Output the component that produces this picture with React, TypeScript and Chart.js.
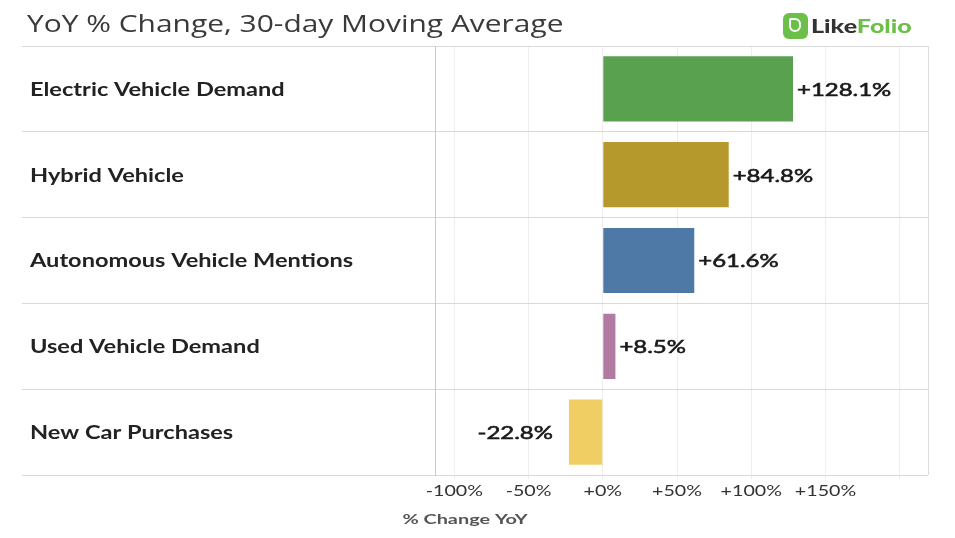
import React, { useEffect, useRef } from "react";
import { Chart, registerables } from "chart.js";

Chart.register(...registerables);

const categories = [
  "Electric Vehicle Demand",
  "Hybrid Vehicle",
  "Autonomous Vehicle Mentions",
  "Used Vehicle Demand",
  "New Car Purchases",
];
const values = [128.1, 84.8, 61.6, 8.5, -22.8];
const barColors = ["#59a14f", "#b6992d", "#4e79a7", "#b07aa1", "#f1ce63"];
const xTickValues = [-100, -50, 0, 50, 100, 150];
const titleText = "YoY % Change, 30-day Moving Average";
const xAxisTitle = "% Change YoY";

const STRETCH = 1.31;

const fmt = (v: number) => (v >= 0 ? "+" : "") + v.toFixed(1) + "%";
const fmtTick = (v: number) => (v >= 0 ? "+" : "") + v + "%";

function stretchedText(ctx: any, text: string, x: number, y: number, align: string, s: number, stroke = 0) {
  ctx.save();
  ctx.scale(s, 1);
  ctx.textAlign = align;
  ctx.fillText(text, x / s, y);
  if (stroke > 0) {
    ctx.lineWidth = stroke;
    ctx.strokeStyle = ctx.fillStyle;
    ctx.strokeText(text, x / s, y);
  }
  ctx.restore();
}

const overlayPlugin = {
  id: "overlay",
  afterDatasetsDraw(chart: any) {
    const { ctx, chartArea } = chart;
    const meta = chart.getDatasetMeta(0);
    const xs = chart.scales.x;
    const ys = chart.scales.y;
    ctx.save();
    // right border
    ctx.strokeStyle = "#dcdcdc";
    ctx.lineWidth = 1;
    ctx.beginPath();
    ctx.moveTo(chartArea.right + 0.5, chartArea.top);
    ctx.lineTo(chartArea.right + 0.5, chartArea.bottom);
    ctx.stroke();
    ctx.textBaseline = "middle";
    // category labels
    ctx.font = "bold 18px Lato";
    ctx.fillStyle = "#222222";
    categories.forEach((c, i) => {
      stretchedText(ctx, c, 30, ys.getPixelForValue(i) + 1, "left", STRETCH);
    });
    // value labels
    ctx.font = "18px Lato";
    ctx.fillStyle = "#1a1a1a";
    meta.data.forEach((bar: any, i: number) => {
      const v = values[i];
      if (v >= 0) {
        stretchedText(ctx, fmt(v), bar.x + 4, bar.y + 1, "left", 1.33, 0.6);
      } else {
        stretchedText(ctx, fmt(v), bar.x - 16, bar.y + 1, "right", 1.33, 0.6);
      }
    });
    // x tick labels
    ctx.font = "15px Lato";
    ctx.fillStyle = "#333333";
    xTickValues.forEach((v) => {
      stretchedText(ctx, fmtTick(v), xs.getPixelForValue(v), 491, "center", STRETCH);
    });
    // axis title
    ctx.font = "bold 14px Lato";
    ctx.fillStyle = "#555555";
    stretchedText(ctx, xAxisTitle, 465, 519, "center", 1.42);
    ctx.restore();
  },
};

export default function App() {
  const ref = useRef<HTMLCanvasElement | null>(null);
  useEffect(() => {
    if (!ref.current) return;
    const chart = new Chart(ref.current, {
      type: "bar",
      data: {
        labels: categories,
        datasets: [
          {
            data: values,
            backgroundColor: barColors,
            barPercentage: 0.76,
            categoryPercentage: 1,
          },
        ],
      },
      options: {
        indexAxis: "y",
        animation: false,
        responsive: true,
        maintainAspectRatio: false,
        layout: { padding: { left: 30, top: 46, right: 27, bottom: 0 } },
        plugins: {
          legend: { display: false },
          tooltip: { enabled: false },
          title: { display: false },
        },
        scales: {
          x: {
            type: "linear",
            min: -113,
            max: 219,
            afterBuildTicks: (scale: any) => {
              scale.ticks = [...xTickValues, 200].map((v) => ({ value: v }));
            },
            afterFit: (scale: any) => {
              scale.height = 63;
            },
            grid: { color: "#eeeeee", lineWidth: 1, tickLength: 4, drawTicks: true },
            border: { display: false },
            ticks: { display: false },
          },
          y: {
            afterFit: (scale: any) => {
              scale.width = 405;
            },
            grid: { color: "#d9d9d9", lineWidth: 1, tickLength: 413, drawTicks: true },
            border: { display: true, color: "#c8c8c8" },
            ticks: { display: false },
          },
        },
      },
      plugins: [overlayPlugin],
    } as any);
    return () => chart.destroy();
  }, []);

  return (
    <div style={{ position: "fixed", left: 0, top: 0, width: 955, height: 538, background: "#fff" }}>
      <canvas ref={ref} />
      <div
        style={{
          position: "absolute",
          left: 27,
          top: 6,
          fontFamily: "'Open Sans'",
          fontSize: 24,
          color: "#3a3a3a",
          whiteSpace: "nowrap",
          transform: "scaleX(1.247)",
          transformOrigin: "left top",
        }}
      >
        {titleText}
      </div>
      <div style={{ position: "absolute", left: 783, top: 13, display: "flex", alignItems: "center" }}>
        <div
          style={{
            width: 25,
            height: 26,
            borderRadius: 6,
            background: "#6cc04a",
            position: "relative",
          }}
        >
          <div
            style={{
              position: "absolute",
              left: 6,
              top: 5,
              width: 12,
              height: 14,
              border: "2.5px solid #fff",
              borderRadius: "2px 6px 6px 6px",
              boxSizing: "border-box",
            }}
          />
        </div>
        <div
          style={{
            marginLeft: 3,
            fontFamily: "Lato",
            fontWeight: 900,
            fontSize: 19,
            lineHeight: "26px",
            transform: "scaleX(1.32)",
            transformOrigin: "left center",
            whiteSpace: "nowrap",
          }}
        >
          <span style={{ color: "#333" }}>Like</span>
          <span style={{ color: "#6cc04a" }}>Folio</span>
        </div>
      </div>
    </div>
  );
}
